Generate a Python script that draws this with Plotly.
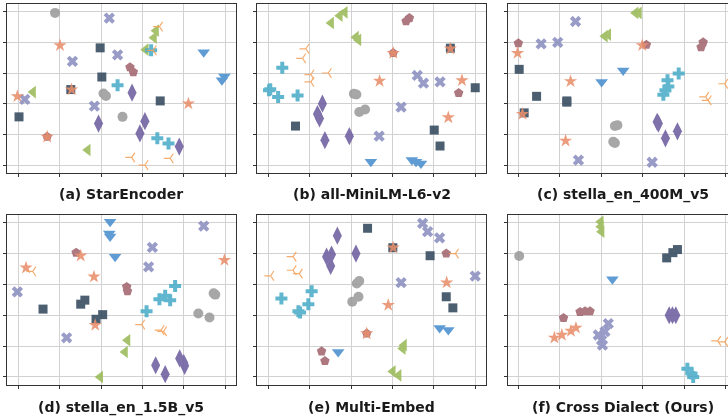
import plotly.graph_objects as go

# ---- class styling (categories) ----
CLASS_SYMBOLS = ["circle", "square", "diamond-tall", "triangle-down", "triangle-left",
                 "x", "pentagon", "cross", "star", "y-left"]
CLASS_COLORS = ["#9b9b9b", "#34495e", "#6e5fa0", "#4a8fcf", "#9aba58",
                "#8b8fc0", "#a2666f", "#4aacc8", "#e98f6c", "#f5a15a"]

PANEL_TITLES = ["(a) StarEncoder", "(b) all-MiniLM-L6-v2", "(c) stella_en_400M_v5",
                "(d) stella_en_1.5B_v5", "(e) Multi-Embed", "(f) Cross Dialect (Ours)"]
TICK_VALUES = [0, 1, 2, 3, 4, 5]

# ---- panel data: class index, x, y ----
A_CLS = [0,0,0,0, 1,1,1,1,1, 2,2,2,2,2, 3,3,3, 4,4,4,4,4, 5,5,5,5,5, 6,6,6, 7,7,7,7, 8,8,8,8,8, 9,9,9,9,9]
A_X = [0.89,2.06,2.12,2.52, 1.98,2.02,1.27,3.43,0.02, 2.75,1.94,3.06,2.94,3.89, 4.48,4.98,4.92,
       3.33,3.28,3.08,0.36,1.68, 2.20,1.31,2.40,0.16,1.84, 2.70,2.78,0.70, 2.40,3.36,3.63,3.21,
       1.01,1.29,-0.02,0.70,4.11, 3.41,2.74,3.67,3.06,3.26]
A_Y = [4.96,2.33,2.25,1.57, 3.82,2.87,2.46,2.09,1.57, 2.36,1.35,1.43,1.03,0.60, 3.68,2.89,2.76,
       4.38,4.15,3.76,2.38,0.49, 4.79,3.38,3.59,2.14,1.92, 3.19,3.03,0.92, 2.60,0.87,0.70,3.74,
       3.90,2.46,2.24,0.92,2.00, 4.51,0.25,0.22,0.00,3.74]

B_CLS = [0,0,0,0, 1,1,1,1,1, 2,2,2,2,2, 3,3,3,3, 4,4,4,4,4, 5,5,5,5,5, 6,6,6,6, 7,7,7,7,7, 8,8,8,8,8, 9,9,9,9,9]
B_X = [2.07,2.13,2.20,2.34, 4.40,5.00,0.66,4.01,4.15, 1.31,1.19,1.24,1.37,1.96, 2.48,3.47,3.57,3.69,
       1.85,1.73,1.52,2.12,2.18, 3.60,3.75,4.15,3.21,2.68, 3.41,3.33,3.02,4.60,
       0.34,0.02,0.05,0.24,0.71, 3.02,4.40,2.69,4.68,4.35, 0.91,0.83,1.03,1.03,1.45]
B_Y = [2.32,2.30,1.73,1.81, 3.81,2.52,1.27,1.14,0.62, 2.00,1.66,1.52,0.81,0.94, 0.11,0.16,0.11,0.05,
       4.98,4.87,4.63,4.17,4.08, 2.92,2.67,2.71,1.89,0.94, 4.79,4.69,3.65,2.35,
       3.17,2.44,2.47,2.22,2.27, 3.65,3.79,2.74,2.76,1.55, 3.79,3.48,2.95,2.71,3.00]

C_CLS = [0,0,0,0, 1,1,1,1,1, 2,2,2,2, 3,3, 4,4,4,4, 5,5,5,5,5, 6,6,6,6, 7,7,7,7,7, 8,8,8,8,8, 9,9,9]
C_X = [2.39,2.33,2.29,2.33, 0.02,0.44,1.17,1.17,0.14, 3.35,3.38,3.84,3.55, 2.53,2.01,
       2.83,2.91,2.09,2.17, 1.38,0.55,0.95,1.45,3.23, 0.00,3.09,4.46,4.41,
       3.87,3.60,3.62,3.55,3.50, -0.02,2.99,1.26,0.10,1.14, 4.98,4.52,4.58]
C_Y = [1.30,1.27,0.76,0.72, 3.12,2.24,2.09,2.05,1.70, 1.41,1.35,1.10,0.87, 3.08,2.71,
       4.96,4.96,4.20,4.25, 4.68,3.95,4.00,0.16,0.09, 3.97,3.92,4.00,3.84,
       2.98,2.76,2.56,2.44,2.29, 3.65,3.90,2.73,1.66,0.79, 2.65,2.22,2.11]

D_CLS = [0,0,0,0, 1,1,1,1,1, 2,2,2,2,2, 3,3,3,3, 4,4,4, 5,5,5,5,5, 6,6,6, 7,7,7,7,7, 8,8,8,8,8, 9,9,9,9]
D_X = [4.76,4.72,4.35,4.62, 0.60,1.61,1.51,2.04,1.88, 3.90,4.02,4.00,3.32,3.55, 2.22,2.20,2.22,2.34,
       2.64,2.58,1.98, 4.48,3.24,3.15,-0.02,1.17, 1.40,2.62,2.64,
       3.79,3.41,3.55,3.67,3.10, 1.51,0.19,1.83,4.98,1.86, 0.35,2.98,3.45,3.51]
D_Y = [2.67,2.71,2.06,1.93, 2.20,2.49,2.36,2.02,1.87, 0.60,0.36,0.45,0.38,0.09, 5.03,4.65,4.55,3.90,
       1.19,0.81,0.00, 4.89,4.20,3.57,2.76,1.27, 4.03,2.92,2.78,
       2.95,2.52,2.63,2.49,2.13, 3.93,3.54,3.25,3.79,1.68, 3.42,1.70,1.52,1.48]

E_CLS = [0,0,0,0, 1,1,1,1,1, 2,2,2,2,2, 3,3,3, 4,4,4,4, 5,5,5,5,5, 6,6,6,6, 7,7,7,7,7, 8,8,8,8, 9,9,9,9,9]
E_X = [2.14,2.20,2.03,2.18, 2.40,3.01,3.91,4.30,4.46, 1.67,1.41,1.53,1.51,2.12, 1.69,4.14,4.35,
       3.25,3.28,3.01,3.15, 3.73,3.85,4.14,3.21,5.00, 4.30,1.29,1.37,2.38,
       1.05,0.32,0.97,0.73,0.77, 3.02,2.90,2.38,4.31, 0.60,0.06,0.60,0.75,4.52]
E_Y = [3.03,3.11,2.44,2.60, 4.82,4.19,3.93,2.60,2.24, 4.58,3.90,3.97,3.60,4.00, 0.81,1.59,1.52,
       0.92,1.03,0.18,0.05, 4.98,4.71,4.51,3.06,3.27, 4.00,0.83,0.52,1.41,
       2.78,2.54,2.36,2.13,2.09, 4.19,2.33,1.41,3.06, 3.90,3.28,3.46,3.35,4.00]

F_CLS = [0, 1,1,1, 2,2,2, 3, 4,4,4, 5,5,5,5,5, 6,6,6,6, 7,7,7, 8,8,8,8, 9,9]
F_X = [0.02, 3.84,3.73,3.58, 3.64,3.72,3.80, 2.27, 1.99,1.99,2.01, 2.17,1.93,2.09,2.01,2.03,
       1.09,1.49,1.61,1.73, 4.08,4.18,4.22, 0.87,1.05,1.27,1.39, 4.81,4.98]
F_Y = [3.92, 4.13,4.03,3.86, 2.00,2.00,2.00, 3.17, 5.03,4.87,4.71, 1.73,1.36,1.47,1.19,1.03,
       1.91,2.11,2.13,2.13, 0.27,0.11,0.00, 1.27,1.36,1.49,1.59, 1.17,1.14]

PANELS = [(A_CLS, A_X, A_Y), (B_CLS, B_X, B_Y), (C_CLS, C_X, C_Y),
          (D_CLS, D_X, D_Y), (E_CLS, E_X, E_Y), (F_CLS, F_X, F_Y)]

W, H = 728, 420
# pixel boxes of each axes (left, right, top, bottom)
COL_PX = [(7, 236), (257, 486), (508, 728)]
ROW_PX = [(4, 173), (215, 385)]
XRANGES = [[-0.27, 5.26], [-0.27, 5.26], [-0.25, 5.06]]
YRANGE = [-0.26, 5.25]
TITLE_Y_PX = [194, 407]
TITLE_X_PX = [121.5, 371.5, 622.5]

MARKER_SIZES = {"circle": 10, "square": 9, "diamond-tall": 13, "triangle-down": 11,
                "triangle-left": 11, "x": 10, "pentagon": 10, "cross": 10, "star": 10}

fig = go.Figure()
layout = dict(width=W, height=H, margin=dict(l=0, r=0, t=0, b=0),
              paper_bgcolor="white", plot_bgcolor="white", showlegend=False)
annotations = []
for p, (cls, xs, ys) in enumerate(PANELS):
    r, c = divmod(p, 3)
    idx = p + 1
    xa = "x" if idx == 1 else f"x{idx}"
    ya = "y" if idx == 1 else f"y{idx}"
    for k in range(len(CLASS_SYMBOLS)):
        px = [x for cc, x in zip(cls, xs) if cc == k]
        py = [y for cc, y in zip(cls, ys) if cc == k]
        if not px:
            continue
        sym = CLASS_SYMBOLS[k]
        if sym == "y-left":
            marker = dict(symbol=sym, size=8, color=CLASS_COLORS[k],
                          line=dict(color=CLASS_COLORS[k], width=1.2))
        else:
            marker = dict(symbol=sym, size=MARKER_SIZES[sym], color=CLASS_COLORS[k],
                          line=dict(width=0))
        fig.add_trace(go.Scatter(x=px, y=py, mode="markers", marker=marker, opacity=0.88,
                                 xaxis=xa, yaxis=ya, hoverinfo="skip"))
    l, rr = COL_PX[c]
    t, b = ROW_PX[r]
    third = (c == 2)
    layout["xaxis" if idx == 1 else f"xaxis{idx}"] = dict(
        domain=[l / W, rr / W], range=XRANGES[c], anchor=ya,
        tickvals=TICK_VALUES, showticklabels=False, ticks="outside", ticklen=3,
        tickcolor="#333", tickwidth=1, showgrid=True, gridcolor="#d2d2d2", gridwidth=1,
        zeroline=False, showline=True, linecolor="#333", linewidth=1.2, mirror=True)
    layout["yaxis" if idx == 1 else f"yaxis{idx}"] = dict(
        domain=[1 - b / H, 1 - t / H], range=YRANGE, anchor=xa,
        tickvals=TICK_VALUES, showticklabels=False, ticks="outside", ticklen=3,
        tickcolor="#333", tickwidth=1, showgrid=True, gridcolor="#d2d2d2", gridwidth=1,
        zeroline=False, showline=True, linecolor="#333", linewidth=1.2,
        mirror=(False if third else True))
    annotations.append(dict(text="<b>" + PANEL_TITLES[p] + "</b>", xref="paper", yref="paper",
                            x=TITLE_X_PX[c] / W, y=1 - TITLE_Y_PX[r] / H,
                            xanchor="center", yanchor="middle", showarrow=False,
                            font=dict(family="DejaVu Sans", size=14, color="#1a1a1a")))
layout["annotations"] = annotations
fig.update_layout(**layout)
fig.write_html("out.html", config={"displayModeBar": False},
               post_script="document.body.style.margin='0';document.body.style.overflow='hidden';")
